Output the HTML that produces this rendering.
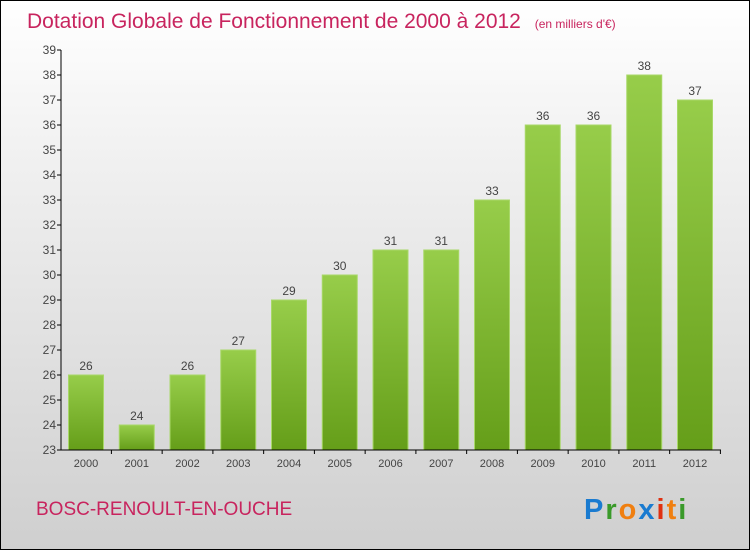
<!DOCTYPE html>
<html><head><meta charset="utf-8"><style>
html,body{margin:0;padding:0}
body{width:750px;height:550px;overflow:hidden;font-family:"Liberation Sans",sans-serif}
#wrap{position:relative;width:748px;height:548px;border:1px solid #000;background:linear-gradient(#ffffff,#f0f0f0 30%,#cfcfcf)}
</style></head><body>
<div id="wrap">
<svg id="c" width="748" height="548">
<defs><linearGradient id="g" x1="0" y1="0" x2="0" y2="1"><stop offset="0" stop-color="#97cd4a"/><stop offset="1" stop-color="#659e19"/></linearGradient></defs>
<text x="26" y="27" font-size="21" fill="#c8245e">Dotation Globale de Fonctionnement de 2000 à 2012 <tspan font-size="12" dx="8">(en milliers d'€)</tspan></text>
<text x="35" y="514" font-size="19" fill="#c8245e">BOSC-RENOULT-EN-OUCHE</text>
<g font-size="29" font-weight="bold" letter-spacing="2">
<text x="583" y="518"><tspan fill="#1a7bd0">P</tspan><tspan fill="#3a9a2a">r</tspan><tspan fill="#f07f10">o</tspan><tspan fill="#1a7bd0">x</tspan><tspan fill="#e03010">i</tspan><tspan fill="#f07f10">t</tspan><tspan fill="#3a9a2a">i</tspan></text></g>
<g id="plot"></g>
</svg></div>
<script>
const years=["2000","2001","2002","2003","2004","2005","2006","2007","2008","2009","2010","2011","2012"];
const values=[26,24,26,27,29,30,31,31,33,36,36,38,37];
const yTicks=[23,24,25,26,27,28,29,30,31,32,33,34,35,36,37,38,39];
const ns="http://www.w3.org/2000/svg";
const g=document.getElementById('plot');
const y=v=>449-(v-23)*25;
const x=i=>85+i*50.75;
function mk(t,a){const e=document.createElementNS(ns,t);for(const k in a)e.setAttribute(k,a[k]);g.appendChild(e);return e;}
values.forEach((v,i)=>{
 const r=mk('rect',{x:x(i)-17.5,y:y(v),width:35,height:y(23)-y(v),fill:'url(#g)',stroke:'#a8d868','stroke-width':1});
 
 
 const t=mk('text',{x:x(i),y:y(v)-5,'font-size':12,fill:'#444','text-anchor':'middle'});t.textContent=v;
 
 
 const l=mk('text',{x:x(i),y:466,'font-size':11,fill:'#444','text-anchor':'middle'});l.textContent=years[i];
 
 
 mk('line',{x1:x(i)+25.4,x2:x(i)+25.4,y1:449,y2:453,stroke:'#000'});
});
yTicks.forEach(v=>{
 mk('line',{x1:56,x2:60,y1:y(v),y2:y(v),stroke:'#000'});
 const t=mk('text',{x:55,y:y(v)+4,'font-size':12,fill:'#444','text-anchor':'end'});t.textContent=v;
 
 
});
const ya=mk('line',{x1:60,x2:60,y1:49,y2:449,stroke:'#000'});


const xa=mk('line',{x1:60,x2:720,y1:449,y2:449,stroke:'#000'});


</script>
</body></html>
